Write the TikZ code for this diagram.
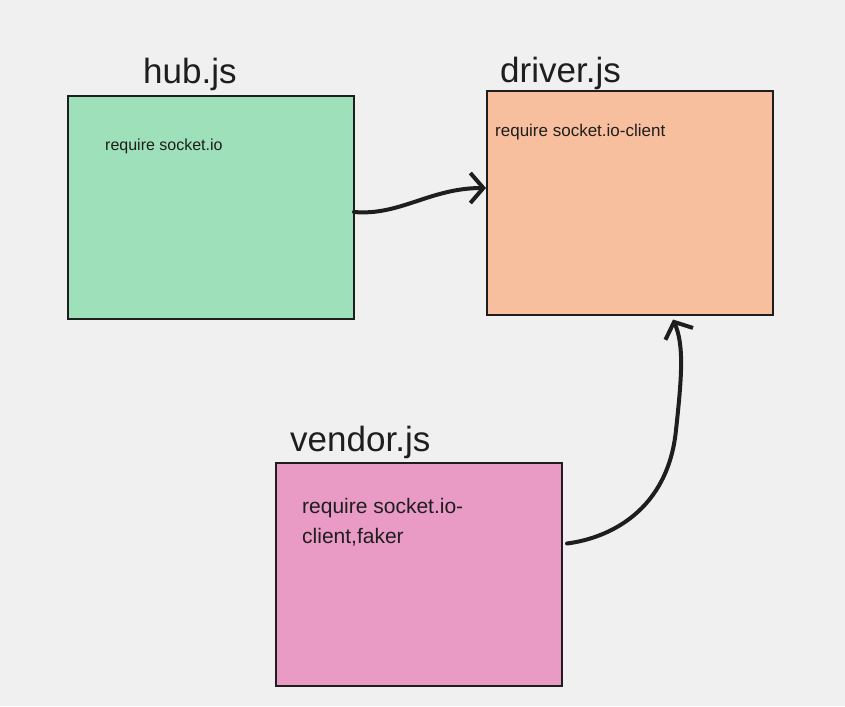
\documentclass[tikz,border=0pt]{standalone}
\usepackage{fontspec}
\setmainfont{Liberation Sans}
\usetikzlibrary{arrows.meta}
\definecolor{bgc}{RGB}{240,240,240}
\definecolor{hubc}{RGB}{157,224,185}
\definecolor{drvc}{RGB}{248,191,158}
\definecolor{vndc}{RGB}{233,155,198}
\definecolor{inkc}{RGB}{30,30,30}
\tikzset{
  filebox/.style={draw=inkc, line width=2pt, minimum width=286pt, minimum height=223pt, inner sep=0pt, outer sep=0pt},
  title/.style={font=\fontsize{35}{40}\selectfont, text=inkc, anchor=base west, inner sep=0pt},
  body/.style={text=inkc, anchor=base west, inner sep=0pt, align=left},
  link/.style={draw=inkc, line width=4pt, line cap=round, line join=round,
    -{Straight Barb[length=13pt,width=30pt,line width=4pt]}}
}
\begin{document}
\begin{tikzpicture}[x=1pt,y=-1pt]
\fill[bgc] (0,0) rectangle (845,706);
\useasboundingbox (0,0) rectangle (845,706);
% boxes
\node[filebox, fill=hubc] (hub) at (211,207.5) {};
\node[filebox, fill=drvc] (driver) at (630,203) {};
\node[filebox, fill=vndc] (vendor) at (419,574.5) {};
% titles
\node[title] (hubt) at (143,84) {hub.js};
\node[title] (drvt) at (500,83) {driver.js};
\node[title] (vndt) at (290,451) {vendor.js};
% bodies
\node[body, font=\fontsize{16}{18}\selectfont] (hubb) at (105,150) {require socket.io};
\node[body, font=\fontsize{17}{19}\selectfont] (drvb) at (495,136) {require socket.io-client};
\node[body, font=\fontsize{21}{30}\selectfont] (vndb) at (302,543) {require socket.io-\\client,faker};
% connectors
\draw[link] ([yshift=-4.5pt]hub.east) .. controls (400,216) and (430,188) .. ([yshift=15pt,xshift=-1pt]driver.west);
\draw[link] ([xshift=5pt,yshift=31pt]vendor.east) .. controls (610,538) and (668,510) .. (676,430)
  .. controls (682,375) and (684,345) .. ([xshift=43pt,yshift=-5pt]driver.south);
\end{tikzpicture}
\end{document}
